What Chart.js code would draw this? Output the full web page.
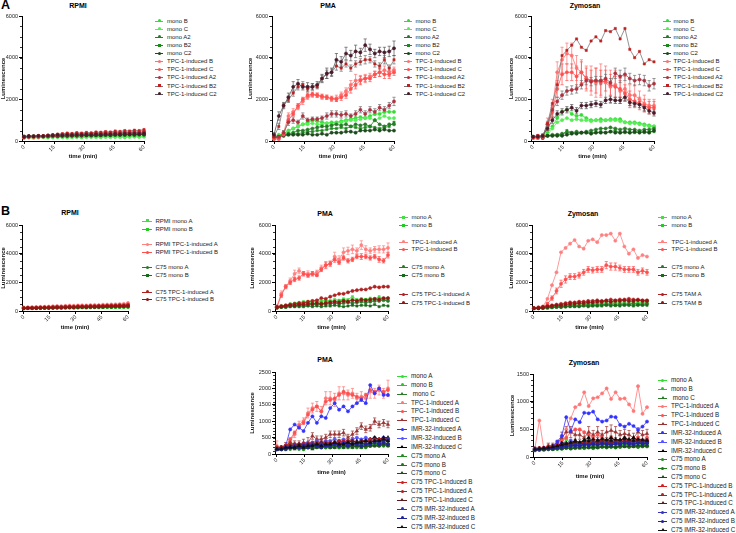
<!DOCTYPE html>
<html><head><meta charset="utf-8">
<script src="https://cdn.jsdelivr.net/npm/chart.js@4.4.1/dist/chart.umd.min.js"></script>
<style>
html,body{margin:0;padding:0;background:#fff}
body{width:736px;height:533px;position:relative;overflow:hidden;font-family:"Liberation Sans",Arial,sans-serif;color:#111}
.plab{position:absolute;font-weight:bold;font-size:12.5px;line-height:1;color:#000}
.ttl{position:absolute;font-weight:bold;font-size:7px;line-height:8px;height:8px;width:100px;text-align:center;white-space:nowrap;color:#000}
canvas{position:absolute}
.li{position:absolute;height:8px;white-space:pre;color:#222}
.li .sw{position:absolute;height:1px;top:4px}
.li .mk{position:absolute;top:4px}
.li .tx{position:absolute;top:4px;transform:translateY(-50%);line-height:1}
</style></head><body>
<div class="plab" style="left:1px;top:-1px">A</div>
<div class="plab" style="left:1px;top:205px">B</div>
<script>
// ---------- shared ----------
const TIME = [0,2.4,4.8,7.2,9.6,12,14.4,16.8,19.2,21.6,24,26.4,28.8,31.2,33.6,36,38.4,40.8,43.2,45.6,48,50.4,52.8,55.2,57.6,60];
const X_TICKS = [0,15,30,45,60];
const Y_TICKS_6000 = [0,2000,4000,6000];
const Y_TICKS_2500 = [0,500,1000,1500,2000,2500];
const Y_TICKS_1500 = [0,500,1000,1500];

// ---------- Panel A: RPMI ----------
const aR_monoB  = [180,190,200,190,200,210,200,210,200,210,220,210,200,220,210,220,210,220,230,220,230,220,230,240,230,240];
const aR_monoC  = [150,160,150,160,170,160,170,180,170,160,170,180,170,180,190,180,170,190,180,190,180,170,190,200,190,200];
const aR_monoA2 = [200,220,230,220,240,230,250,240,250,260,250,270,260,270,280,270,280,290,280,290,300,290,300,290,310,300];
const aR_monoB2 = [220,240,230,250,240,260,250,270,260,280,270,290,280,300,290,280,300,310,300,290,310,300,320,310,300,320];
const aR_monoC2 = [200,210,220,210,230,220,240,230,250,240,260,250,260,270,260,280,270,290,280,300,290,300,310,300,320,310];
const aR_tpcB   = [180,200,210,230,220,260,280,300,320,350,330,360,340,380,360,400,380,420,400,430,410,450,430,480,460,500];
const aR_tpcC   = [160,180,190,200,210,230,250,270,280,300,290,310,300,330,320,340,330,360,340,370,360,380,370,400,390,420];
const aR_tpcA2  = [200,210,220,240,230,260,280,300,310,330,320,340,330,350,340,370,360,380,370,400,380,410,400,420,410,440];
const aR_tpcB2  = [220,240,230,260,250,280,300,330,350,380,360,400,380,410,390,430,420,450,430,480,460,500,480,520,500,550];
const aR_tpcC2  = [200,230,220,240,230,250,260,280,270,290,280,300,290,310,300,320,310,330,320,340,330,350,340,360,350,370];

// ---------- Panel A: PMA ----------
const aP_monoB  = [200,300,350,500,600,700,800,900,1000,950,900,850,900,900,950,1000,1050,1100,1150,1100,1200,1300,1300,1400,1400,1400];
const aP_monoC  = [200,250,300,450,600,700,800,800,850,800,800,850,800,850,900,950,1000,1000,1050,1100,1100,1000,1100,1200,1100,1100];
const aP_monoA2 = [200,200,300,350,400,500,500,550,600,650,700,700,750,800,750,800,700,800,750,800,700,1000,800,700,800,800];
const aP_monoB2 = [150,200,300,300,350,350,400,450,450,500,500,550,600,600,650,600,700,650,600,650,700,650,600,650,700,900];
const aP_monoC2 = [150,200,250,300,300,300,300,350,300,300,350,300,400,400,400,450,450,400,500,500,500,550,500,550,500,500];
const aP_tpcB   = [100,150,400,1200,1400,1600,1900,2100,2200,2200,2100,2100,2000,2050,2200,2400,2700,2900,2950,3000,3100,3200,3300,3400,3300,3400];
const aP_tpcC   = [100,100,300,1000,1300,1700,2000,2200,2250,2200,2150,2100,2050,2000,2100,2200,2500,2700,2900,3000,3000,3200,3300,3200,3200,3300];
const aP_tpcA2  = [200,200,400,900,1000,900,1200,1000,1050,1050,1100,1200,1300,1300,1250,1300,1200,1300,1500,1300,1500,1400,1600,1500,1700,1900];
const aP_tpcB2  = [200,700,1700,2000,2300,2600,2700,2500,2600,2600,3000,3200,3300,3600,3500,3700,3500,3700,3800,3900,3900,3700,3600,3900,3500,3900];
const aP_tpcC2  = [300,1200,1700,2100,2600,2750,2600,2600,2600,2700,3000,3250,3300,3900,3800,4200,4100,4300,4250,4600,4400,4200,4300,4250,4300,4450];
const aP_tpcB_err  = [30,50,100,150,150,100,150,100,100,100,100,100,100,150,150,150,200,300,200,200,150,150,200,200,200,150];
const aP_tpcC_err  = [30,50,100,100,100,100,100,100,100,100,100,100,100,100,150,150,200,200,200,150,150,150,200,200,200,150];
const aP_tpcA2_err = [50,80,100,150,150,100,150,100,100,100,100,150,150,150,150,150,100,150,150,150,150,150,150,150,150,200];
const aP_tpcB2_err = [80,150,100,150,150,150,150,150,150,100,150,200,150,200,150,150,150,150,150,200,150,150,150,200,150,200];
const aP_tpcC2_err = [100,200,150,200,250,200,150,200,150,150,200,250,200,300,250,300,250,300,200,300,250,200,200,250,250,350];

// ---------- Panel A: Zymosan ----------
const aZ_monoB  = [200,200,250,400,700,1100,1400,1500,1300,1200,1250,1100,1000,1000,1050,1000,1050,1050,1050,900,900,900,850,800,750,700];
const aZ_monoC  = [200,200,200,300,600,900,1000,1100,1000,1050,1000,1000,950,1000,950,1000,1000,1000,950,900,850,850,800,750,700,700];
const aZ_monoA2 = [200,200,200,250,300,300,350,400,400,450,400,450,500,550,600,600,650,600,550,600,550,550,500,550,550,600];
const aZ_monoB2 = [150,200,200,250,250,300,300,500,400,400,400,400,400,400,450,400,450,500,400,400,400,400,450,400,450,450];
const aZ_monoC2 = [200,200,150,250,250,250,250,300,350,350,400,400,350,400,400,400,450,400,400,450,400,450,400,450,400,500];
const aZ_tpcB   = [150,150,200,800,1600,3300,3900,4200,4100,3500,3300,3000,2900,2800,2900,2800,2600,2700,2400,2500,2200,2200,2000,1800,1700,1700];
const aZ_tpcC   = [150,150,200,700,1400,2500,3200,3300,3300,3100,3300,3000,2900,2900,2800,2900,2700,2600,2500,2300,2000,1900,1800,1700,1600,1600];
const aZ_tpcA2  = [200,250,250,800,1500,1900,2200,2400,2450,2500,2700,2900,2850,2900,2900,3000,2800,3250,3100,3200,3000,2900,2950,2900,2650,2750];
const aZ_tpcB2  = [200,250,200,850,1800,2700,4100,4350,4600,4900,4500,4350,4800,5000,4800,5300,5250,5400,4900,5400,4400,4000,4300,3700,3900,3800];
const aZ_tpcC2  = [200,200,250,600,1000,1300,1400,1500,1600,1450,1700,1700,1750,1800,1750,1950,2000,1950,1950,2100,1850,1800,1750,1600,1450,1350];
const aZ_tpcB_err  = [50,50,100,300,400,500,600,500,600,600,600,600,700,700,800,800,800,700,600,600,500,500,400,400,300,300];
const aZ_tpcC_err  = [50,50,100,200,300,400,500,400,400,500,500,500,500,600,600,500,500,500,400,400,400,300,300,300,300,300];
const aZ_tpcA2_err = [50,50,100,150,200,200,200,200,200,200,200,200,200,200,200,200,200,250,300,300,250,250,250,250,250,250];
const aZ_tpcC2_err = [30,50,50,100,150,150,150,150,150,150,150,150,150,150,150,150,150,150,150,150,150,150,150,150,150,150];

// ---------- Panel B row 1: RPMI ----------
const bR_monoA    = [180,190,200,190,200,210,200,210,220,210,220,230,220,230,240,230,240,250,240,250,260,250,260,270,260,270];
const bR_monoB    = [170,180,170,190,180,200,190,200,210,200,210,220,210,220,230,220,230,240,230,240,250,240,250,260,250,260];
const bR_tpcA     = [250,260,270,280,290,300,310,330,350,340,360,380,370,390,400,390,410,420,410,440,450,460,470,480,500,560];
const bR_tpcB     = [220,230,240,250,260,270,280,300,310,300,320,330,320,340,350,340,360,370,360,380,390,400,410,420,430,480];
const bR_c75monoA = [200,210,200,220,210,230,220,240,230,250,240,260,250,260,270,260,280,270,290,280,300,290,310,300,320,310];
const bR_c75monoB = [180,190,200,190,210,200,220,210,230,220,240,230,250,240,260,250,270,260,280,270,290,280,300,290,310,300];
const bR_c75tpcA  = [200,220,210,230,240,230,260,250,280,270,290,300,290,320,310,330,340,330,360,350,370,380,370,400,390,420];
const bR_c75tpcB  = [190,200,210,200,220,230,220,240,250,240,260,270,260,280,290,280,300,310,300,320,330,320,340,350,340,360];

// ---------- Panel B row 1: PMA ----------
const bP_monoA    = [300,350,400,500,550,600,650,650,700,700,700,750,700,800,750,850,800,1000,800,850,800,900,850,1000,850,900];
const bP_monoB    = [300,300,350,450,500,500,600,550,600,650,600,650,700,650,700,750,700,800,750,750,800,700,800,850,800,800];
const bP_tpcA     = [300,1200,1700,2100,2600,2800,2600,2600,2600,2700,3000,3200,3300,3800,3600,4100,4200,4300,4200,4600,4300,4200,4300,4300,4300,4400];
const bP_tpcB     = [250,1100,1700,2000,2200,2300,2600,2500,2600,2500,2900,3200,3300,3600,3400,3700,3500,3600,3800,3800,3800,3700,3800,3600,3500,3900];
const bP_c75monoA = [250,300,300,350,350,400,400,400,450,450,450,500,500,550,500,550,600,550,600,650,600,650,700,700,750,700];
const bP_c75monoB = [200,250,250,300,300,300,300,350,300,350,300,350,350,400,350,300,350,400,350,400,400,350,450,300,400,350];
const bP_c75tpcA  = [300,350,400,450,500,550,550,650,700,750,900,850,1000,1100,1200,1200,1300,1400,1450,1500,1500,1600,1700,1650,1700,1700];
const bP_c75tpcB  = [250,300,350,400,400,450,450,500,500,550,500,550,600,650,600,700,650,750,700,800,750,800,850,800,900,900];
const bP_tpcA_err = [100,200,150,200,250,200,150,200,150,150,200,250,200,300,250,300,250,300,200,300,250,200,200,250,250,350];
const bP_tpcB_err = [80,150,100,150,150,150,150,150,150,100,150,200,150,200,150,150,150,150,150,200,150,150,150,200,150,200];

// ---------- Panel B row 1: Zymosan ----------
const bZ_monoA    = [200,200,250,300,300,350,400,400,450,450,500,500,550,500,550,600,600,650,550,600,650,600,650,600,600,650];
const bZ_monoB    = [200,200,200,250,300,300,350,350,400,400,400,450,450,450,500,500,500,550,500,500,550,500,550,500,550,550];
const bZ_tpcA     = [200,250,300,850,1800,2700,4100,4400,4700,4950,4500,4350,4900,5000,4800,5300,5300,5400,4900,5400,4500,4000,4300,3700,3900,3800];
const bZ_tpcB     = [200,200,250,500,900,1400,1900,2200,2400,2400,2500,2700,2900,2850,2900,2900,3200,3100,3100,3000,2900,2900,2900,2700,2800,2700];
const bZ_c75monoA = [180,200,200,250,250,300,300,300,350,350,350,400,400,400,400,450,450,450,400,450,450,450,500,450,450,500];
const bZ_c75monoB = [180,180,200,200,250,250,250,300,300,300,300,350,300,350,350,350,400,350,400,350,400,400,350,400,400,400];
const bZ_tamA     = [200,250,300,350,400,450,500,550,600,600,650,650,700,700,750,700,750,800,750,800,800,850,800,800,750,750];
const bZ_tamB     = [200,200,250,300,350,400,400,450,500,500,550,550,600,600,650,650,700,650,700,700,750,700,700,750,700,700];
const bZ_tpcB_err = [30,50,50,100,150,200,250,250,200,200,200,200,200,200,200,200,250,250,250,200,200,200,200,200,200,200];

// ---------- Panel B row 2: PMA ----------
const cP_monoA    = [150,200,250,350,250,250,200,250,300,300,250,300,250,300,300,300,350,300,350,300,350,300,350,400,350,400];
const cP_monoB    = [150,150,200,250,200,200,150,200,200,250,200,250,200,250,200,250,250,200,250,200,250,250,300,250,300,300];
const cP_monoC    = [150,150,200,200,250,200,250,250,250,300,250,300,250,300,300,250,300,300,250,300,300,250,300,300,350,300];
const cP_tpcA     = [250,150,200,400,600,900,1000,1250,1400,1450,1300,1700,1700,1650,1850,1850,1800,1850,1700,1750,1700,1900,1850,1950,1850,2000];
const cP_tpcB     = [150,200,250,450,650,850,950,1200,1350,1450,1300,1600,1650,1700,1800,1900,1850,1800,1750,1700,1800,1950,1900,2000,1900,1950];
const cP_tpcC     = [150,200,250,350,300,300,350,350,550,450,450,500,600,600,600,650,500,600,700,850,750,800,1000,900,950,900];
const cP_imrA     = [150,150,250,750,900,800,700,950,1150,950,1150,1100,1400,1550,1350,1450,1300,1450,1550,1650,1550,2100,1850,2000,1800,1800];
const cP_imrB     = [150,150,200,250,300,300,300,350,350,400,350,400,400,450,400,450,400,450,500,450,500,450,500,450,500,450];
const cP_imrC     = [150,150,200,200,200,250,250,250,300,250,300,300,250,300,300,350,300,350,400,350,400,450,500,450,500,500];
const cP_c75monoA = [150,150,150,200,200,150,200,200,200,250,200,200,250,200,250,200,250,250,200,250,250,250,300,250,300,250];
const cP_c75monoB = [150,150,200,150,200,200,150,200,200,200,250,200,200,250,200,250,200,250,250,250,200,250,250,300,250,300];
const cP_c75monoC = [150,200,150,200,150,200,200,200,150,200,200,250,200,200,250,200,250,200,250,200,250,250,250,250,300,250];
const cP_c75tpcB  = [200,200,250,300,250,300,300,300,350,300,350,350,300,350,350,400,350,400,350,400,400,450,400,450,400,450];
const cP_c75tpcA  = [200,200,250,250,300,250,300,300,300,350,300,350,350,350,400,350,400,400,350,400,400,400,450,400,450,450];
const cP_c75tpcC  = [150,200,200,250,250,300,250,300,300,300,350,300,300,350,300,350,350,400,350,400,400,350,400,400,450,400];
const cP_c75imrA  = [150,150,200,200,250,200,250,250,300,250,300,300,250,300,300,350,300,300,350,350,300,350,400,350,400,450];
const cP_c75imrB  = [150,150,150,200,200,200,250,200,250,250,200,250,250,300,250,300,250,300,300,250,300,300,350,300,350,300];
const cP_c75imrC  = [150,150,200,200,200,250,200,250,250,300,250,300,300,350,300,300,350,300,350,350,400,350,400,400,450,400];
const cP_tpcA_err = [150,50,100,100,100,100,100,150,150,150,150,200,200,200,200,200,150,150,150,150,150,200,150,150,150,250];
const cP_tpcC_err = [50,50,100,100,100,100,100,150,100,100,100,100,100,100,100,100,100,100,100,100,100,100,100,100,100,100];

// ---------- Panel B row 2: Zymosan ----------
const cZ_monoA    = [130,150,150,150,150,150,200,320,250,200,250,300,250,250,250,200,250,250,200,250,200,250,200,250,250,250];
const cZ_monoB    = [130,130,150,150,150,150,150,200,200,200,200,250,200,200,200,200,200,250,200,200,250,200,200,200,250,200];
const cZ_monoC    = [130,130,150,150,150,150,200,200,200,200,200,200,250,200,200,250,200,200,250,200,200,250,200,200,200,250];
const cZ_tpcA     = [150,660,150,150,200,200,300,500,700,900,950,1170,920,1060,1080,1150,1240,1050,1170,1050,1060,950,830,1280,780,900];
const cZ_tpcB     = [150,150,150,200,200,250,300,350,450,500,500,450,400,350,400,350,300,350,300,300,350,300,300,350,300,350];
const cZ_tpcC     = [150,150,150,200,200,250,350,450,450,400,400,350,450,400,450,400,450,480,450,400,420,400,350,450,400,420];
const cZ_imrA     = [150,150,150,150,200,280,380,720,470,680,630,800,790,820,680,640,660,730,720,580,550,600,560,490,550,640];
const cZ_imrB     = [150,150,150,150,200,200,250,250,300,250,250,250,300,250,300,250,250,300,250,250,300,250,300,250,300,300];
const cZ_imrC     = [130,150,150,150,200,200,250,250,250,300,250,300,350,250,300,300,300,350,300,300,350,300,350,300,250,300];
const cZ_c75monoA = [130,130,140,140,150,150,160,170,160,170,180,170,180,170,180,190,180,190,180,190,200,190,200,190,200,200];
const cZ_c75monoB = [120,130,130,140,140,150,150,160,150,160,170,160,170,160,170,180,170,180,170,180,190,180,190,180,190,190];
const cZ_c75monoC = [130,140,130,150,140,160,150,170,160,170,160,180,170,180,170,190,180,190,180,200,190,200,190,210,200,210];
const cZ_c75tpcB  = [150,160,170,180,190,200,220,240,250,260,250,270,260,280,270,290,280,270,290,280,300,290,280,300,290,300];
const cZ_c75tpcA  = [140,150,160,170,180,200,210,230,240,250,240,260,250,270,260,280,270,260,280,270,290,280,270,290,280,290];
const cZ_c75tpcC  = [140,150,150,160,170,180,200,220,230,240,230,250,240,260,250,270,260,250,270,260,280,270,260,280,270,280];
const cZ_c75imrA  = [140,150,160,160,170,180,190,200,210,220,210,230,220,240,230,250,240,230,250,240,260,250,240,260,250,260];
const cZ_c75imrB  = [130,140,150,150,160,170,180,190,200,210,200,220,210,230,220,240,230,220,240,230,250,240,230,250,240,250];
const cZ_c75imrC  = [140,150,160,170,180,200,220,240,260,280,270,300,290,320,300,330,310,300,320,310,330,320,300,320,310,300];
const cZ_tpcC_err = [30,30,30,50,50,50,100,100,100,80,80,80,100,80,100,80,100,100,100,80,80,80,80,80,80,80];

// ---------- labels ----------
const A_LABELS = ['mono B','mono C','mono A2','mono B2','mono C2','TPC-1-induced B','TPC-1-induced C','TPC-1-induced A2','TPC-1-induced B2','TPC-1-induced C2'];
const B_RPMI_LABELS = ['RPMI mono A','RPMI mono B','RPMI TPC-1-induced A','RPMI TPC-1-induced B','C75 mono A','C75 mono B','C75 TPC-1-induced A','C75 TPC-1-induced B'];
const B_PMA_LABELS = ['mono A','mono B','TPC-1-induced A','TPC-1-induced B','C75 mono A','C75 mono B','C75 TPC-1-induced A','C75 TPC-1-induced B'];
const B_ZYM_LABELS = ['mono A','mono B','TPC-1-induced A','TPC-1-induced B','C75 mono A','C75 mono B','C75 TAM A','C75 TAM B'];
const C_LABELS = ['mono A','mono B',' mono C','TPC-1-induced A','TPC-1-induced B','TPC-1-induced C','IMR-32-induced A','IMR-32-induced B','IMR-32-induced C','C75 mono A','C75 mono B','C75 mono C','C75 TPC-1-induced B','C75 TPC-1-induced A','C75 TPC-1-induced C','C75 IMR-32-induced A','C75 IMR-32-induced B','C75 IMR-32-induced C'];

// ---------- styles ----------
const A_STYLE = [
  {color:'#33dd33'},{color:'#55ee55'},{color:'#2a7a2a'},{color:'#1a8a1a',marker:'rect'},{color:'#1e4a1e'},
  {color:'#ff7070'},{color:'#ff5050'},{color:'#b03040',line:'#707070',err:'#707070'},{color:'#c02020',line:'#777777',marker:'rect',err:'#707070'},{color:'#4a1a2a',line:'#555555',err:'#555555'}
];
const B_STYLE = [
  {color:'#44dd44',marker:'rect'},{color:'#22cc22',marker:'rect'},{color:'#ff8080'},{color:'#ff5050'},
  {color:'#2a7a2a'},{color:'#1a6a1a',marker:'rect'},{color:'#b02020'},{color:'#901515'}
];
const C_STYLE = [
  {color:'#33dd33'},{color:'#22cc22'},{color:'#2a7a2a',marker:'triangle'},
  {color:'#ff7777'},{color:'#ff5050'},{color:'#993333',marker:'triangle'},
  {color:'#3333ff'},{color:'#5555ff'},{color:'#000000',marker:'triangle'},
  {color:'#2a8a2a'},{color:'#1a7a1a'},{color:'#1e4a1e',marker:'triangle'},
  {color:'#cc2222'},{color:'#aa2222'},{color:'#5a1a1a',marker:'triangle'},
  {color:'#3333bb'},{color:'#222299'},{color:'#111111',marker:'triangle'}
];

const FONT = '"Liberation Sans", Arial, sans-serif';

const errorBars = {
  id:'errorBars',
  beforeDatasetsDraw(chart){
    const ctx = chart.ctx, xs = chart.scales.x, ys = chart.scales.y;
    chart.data.datasets.forEach(ds=>{
      if(!ds.errors) return;
      ctx.save(); ctx.strokeStyle = ds.errColor; ctx.lineWidth = 0.7;
      ds.data.forEach((pt,j)=>{
        const e = ds.errors[j]; if(!e) return;
        const x = xs.getPixelForValue(pt.x);
        const y1 = ys.getPixelForValue(pt.y+e), y2 = ys.getPixelForValue(Math.max(0,pt.y-e));
        ctx.beginPath();
        ctx.moveTo(x,y1); ctx.lineTo(x,y2);
        ctx.moveTo(x-1.6,y1); ctx.lineTo(x+1.6,y1);
        ctx.moveTo(x-1.6,y2); ctx.lineTo(x+1.6,y2);
        ctx.stroke();
      });
      ctx.restore();
    });
  }
};

// minor ticks on the y axis, placed through the y scale
const minorTicks = {
  id:'minorTicks',
  afterDraw(chart){
    const ys = chart.scales.y, ctx = chart.ctx;
    const step = chart.options.minorStep; if(!step) return;
    const x = chart.chartArea.left;
    ctx.save(); ctx.strokeStyle='#000'; ctx.lineWidth=0.8;
    for(let v=step; v<ys.max; v+=step){
      const y = Math.round(ys.getPixelForValue(v))+0.5;
      ctx.beginPath(); ctx.moveTo(x-2,y); ctx.lineTo(x,y); ctx.stroke();
    }
    ctx.restore();
  }
};

function makeSeries(labels, style, datas, errs){
  return labels.map((l,i)=>Object.assign({label:l, data:datas[i], errors:errs?errs[i]:null}, style[i]));
}

function title(text, x, y){
  const d = document.createElement('div'); d.className='ttl'; d.textContent=text;
  d.style.left = Math.round(x-50)+'px'; d.style.top = Math.round(y-4)+'px'; document.body.appendChild(d);
}

function legend(series, L){
  series.forEach((s,i)=>{
    const y = L.rows[i];
    const d = document.createElement('div'); d.className='li';
    d.style.left = L.x1+'px'; d.style.top = (y-4)+'px';
    const sw = document.createElement('span'); sw.className='sw';
    sw.style.left='0px'; sw.style.width=(L.x2-L.x1)+'px'; sw.style.background = s.line||s.color;
    d.appendChild(sw);
    const mk = document.createElement('span'); mk.className='mk';
    const c = (L.x2-L.x1)/2;
    if(s.marker==='triangle'){
      mk.style.width='0'; mk.style.height='0';
      mk.style.borderLeft='2px solid transparent'; mk.style.borderRight='2px solid transparent';
      mk.style.borderBottom='3.5px solid '+s.color; mk.style.left=(c-2)+'px'; mk.style.marginTop='-2px';
    } else {
      mk.style.width='3px'; mk.style.height='3px'; mk.style.background=s.color;
      mk.style.left=(c-1.5)+'px'; mk.style.marginTop='-1.5px';
      if(s.marker!=='rect') mk.style.borderRadius='50%';
    }
    d.appendChild(mk);
    const tx = document.createElement('span'); tx.className='tx';
    tx.style.left=(L.tx-L.x1)+'px'; tx.style.fontSize=L.fs+'px'; tx.textContent=s.label;
    d.appendChild(tx);
    document.body.appendChild(d);
  });
}

function panel(p){
  const left = Math.round(p.ytx - 3.6);
  const top = p.yTop - 5;
  const right = p.x60 + 5;
  const bottom = Math.round(p.xty + 3.6);
  const w = right-left, h = bottom-top;
  const cv = document.createElement('canvas');
  cv.width=w; cv.height=h;
  cv.style.left=left+'px'; cv.style.top=top+'px'; cv.style.width=w+'px'; cv.style.height=h+'px';
  document.body.appendChild(cv);
  const yw = p.axisX - left;
  const xh = bottom - p.yBottom;
  const datasets = p.series.map((s,i)=>({
    label:s.label,
    data: TIME.map((t,k)=>({x:t, y:s.data[k]})),
    borderColor: s.line||s.color, backgroundColor: s.color,
    pointBackgroundColor: s.color, pointBorderColor: s.color,
    pointStyle: s.marker||'circle', pointRadius: s.marker==='triangle'?2:1.6, pointBorderWidth:0.5,
    borderWidth: 0.8, tension:0, clip:false, order: p.series.length - i,
    errors: s.errors, errColor: s.err||s.color
  }));
  const tickFont = {size:5.5, family:FONT};
  const titleFont = {size:6, weight:'bold', family:FONT};
  new Chart(cv.getContext('2d'), {
    type:'line',
    data:{datasets},
    options:{
      responsive:false, animation:false, devicePixelRatio:1, minorStep:p.minor,
      layout:{autoPadding:false, padding:{left:0, top:5, right:5, bottom:0}},
      plugins:{legend:{display:false}, tooltip:{enabled:false}, title:{display:false}},
      scales:{
        x:{type:'linear', min:-1, max:60,
          afterBuildTicks:s=>{s.ticks = X_TICKS.map(v=>({value:v}));},
          afterFit:s=>{s.height = xh;},
          ticks:{font:tickFont, color:'#222', padding:0, minRotation:45, maxRotation:45, autoSkip:false, callback:v=>String(v)},
          grid:{drawOnChartArea:false, drawTicks:true, tickLength:3, color:'#000', lineWidth:1},
          border:{display:true, color:'#000', width:1},
          title:{display:true, text:'time (min)', font:titleFont, color:'#111', padding:0}
        },
        y:{type:'linear', min:0, max:p.ymax,
          afterBuildTicks:s=>{s.ticks = p.yticks.map(v=>({value:v}));},
          afterFit:s=>{s.width = yw;},
          ticks:{font:tickFont, color:'#222', padding:1, autoSkip:false, callback:v=>String(v)},
          grid:{drawOnChartArea:false, drawTicks:true, tickLength:3, color:'#000', lineWidth:1},
          border:{display:true, color:'#000', width:1},
          title:{display:true, text:'Luminescence', font:titleFont, color:'#111', padding:0}
        }
      }
    },
    plugins:[errorBars, minorTicks]
  });
}

// ---------- build ----------
const aRows = [0,1,2,3,4,5,6,7,8,9].map(i=>20.7+8.1*i);
const bRows1 = [220.7,229,244.3,252,267.3,275.3,291.7,299.3];
const bRows2 = [217.3,225,241.7,249.3,266.7,275,294.3,302.7];
const cRowsP = C_LABELS.map((l,i)=>376+8.86*i);
const cRowsZ = C_LABELS.map((l,i)=>380+8.82*i);

const sAR = makeSeries(A_LABELS, A_STYLE, [aR_monoB,aR_monoC,aR_monoA2,aR_monoB2,aR_monoC2,aR_tpcB,aR_tpcC,aR_tpcA2,aR_tpcB2,aR_tpcC2]);
const sAP = makeSeries(A_LABELS, A_STYLE, [aP_monoB,aP_monoC,aP_monoA2,aP_monoB2,aP_monoC2,aP_tpcB,aP_tpcC,aP_tpcA2,aP_tpcB2,aP_tpcC2],
  [null,null,null,null,null,aP_tpcB_err,aP_tpcC_err,aP_tpcA2_err,aP_tpcB2_err,aP_tpcC2_err]);
const sAZ = makeSeries(A_LABELS, A_STYLE, [aZ_monoB,aZ_monoC,aZ_monoA2,aZ_monoB2,aZ_monoC2,aZ_tpcB,aZ_tpcC,aZ_tpcA2,aZ_tpcB2,aZ_tpcC2],
  [null,null,null,null,null,aZ_tpcB_err,aZ_tpcC_err,aZ_tpcA2_err,null,aZ_tpcC2_err]);
const sBR = makeSeries(B_RPMI_LABELS, B_STYLE, [bR_monoA,bR_monoB,bR_tpcA,bR_tpcB,bR_c75monoA,bR_c75monoB,bR_c75tpcA,bR_c75tpcB]);
const sBP = makeSeries(B_PMA_LABELS, B_STYLE, [bP_monoA,bP_monoB,bP_tpcA,bP_tpcB,bP_c75monoA,bP_c75monoB,bP_c75tpcA,bP_c75tpcB],
  [null,null,bP_tpcA_err,bP_tpcB_err,null,null,null,null]);
const sBZ = makeSeries(B_ZYM_LABELS, B_STYLE, [bZ_monoA,bZ_monoB,bZ_tpcA,bZ_tpcB,bZ_c75monoA,bZ_c75monoB,bZ_tamA,bZ_tamB],
  [null,null,null,bZ_tpcB_err,null,null,null,null]);
const sCP = makeSeries(C_LABELS, C_STYLE, [cP_monoA,cP_monoB,cP_monoC,cP_tpcA,cP_tpcB,cP_tpcC,cP_imrA,cP_imrB,cP_imrC,cP_c75monoA,cP_c75monoB,cP_c75monoC,cP_c75tpcB,cP_c75tpcA,cP_c75tpcC,cP_c75imrA,cP_c75imrB,cP_c75imrC],
  [null,null,null,cP_tpcA_err,null,cP_tpcC_err]);
const sCZ = makeSeries(C_LABELS, C_STYLE, [cZ_monoA,cZ_monoB,cZ_monoC,cZ_tpcA,cZ_tpcB,cZ_tpcC,cZ_imrA,cZ_imrB,cZ_imrC,cZ_c75monoA,cZ_c75monoB,cZ_c75monoC,cZ_c75tpcB,cZ_c75tpcA,cZ_c75tpcC,cZ_c75imrA,cZ_c75imrB,cZ_c75imrC],
  [null,null,null,null,null,cZ_tpcC_err]);

panel({ytx:4,  axisX:22,  x60:144, yTop:16, yBottom:141, xty:156, ymax:6000, yticks:Y_TICKS_6000, minor:500, series:sAR});
panel({ytx:251,axisX:272, x60:394, yTop:16, yBottom:141, xty:156, ymax:6000, yticks:Y_TICKS_6000, minor:500, series:sAP});
panel({ytx:512,axisX:531, x60:654, yTop:16, yBottom:141, xty:156, ymax:6000, yticks:Y_TICKS_6000, minor:500, series:sAZ});
panel({ytx:4,  axisX:22,  x60:128, yTop:225, yBottom:311, xty:327, ymax:6000, yticks:Y_TICKS_6000, minor:500, series:sBR});
panel({ytx:253,axisX:275, x60:388, yTop:225, yBottom:311, xty:327, ymax:6000, yticks:Y_TICKS_6000, minor:500, series:sBP});
panel({ytx:512,axisX:532, x60:647, yTop:225, yBottom:311, xty:327, ymax:6000, yticks:Y_TICKS_6000, minor:500, series:sBZ});
panel({ytx:253,axisX:275, x60:388, yTop:372, yBottom:454, xty:472, ymax:2500, yticks:Y_TICKS_2500, minor:100, series:sCP});
panel({ytx:513,axisX:533, x60:647, yTop:374, yBottom:457, xty:476, ymax:1500, yticks:Y_TICKS_1500, minor:100, series:sCZ});

title('RPMI',78,6); title('PMA',328,6); title('Zymosan',585,6);
title('RPMI',70,213); title('PMA',325,214); title('Zymosan',583,214);
title('PMA',325,360); title('Zymosan',584,363);

legend(sAR, {x1:155, x2:163, tx:167, rows:aRows, fs:6});
legend(sAP, {x1:404, x2:412, tx:415.5, rows:aRows, fs:6});
legend(sAZ, {x1:663, x2:671, tx:673.5, rows:aRows, fs:6});
legend(sBR, {x1:142, x2:152, tx:155.5, rows:bRows1, fs:6});
legend(sBP, {x1:399, x2:408, tx:411.5, rows:bRows2, fs:6});
legend(sBZ, {x1:658, x2:667, tx:671.5, rows:bRows2, fs:6});
legend(sCP, {x1:397, x2:407, tx:411, rows:cRowsP, fs:6.3});
legend(sCZ, {x1:658, x2:667, tx:671, rows:cRowsZ, fs:6.3});
</script>
</body></html>
